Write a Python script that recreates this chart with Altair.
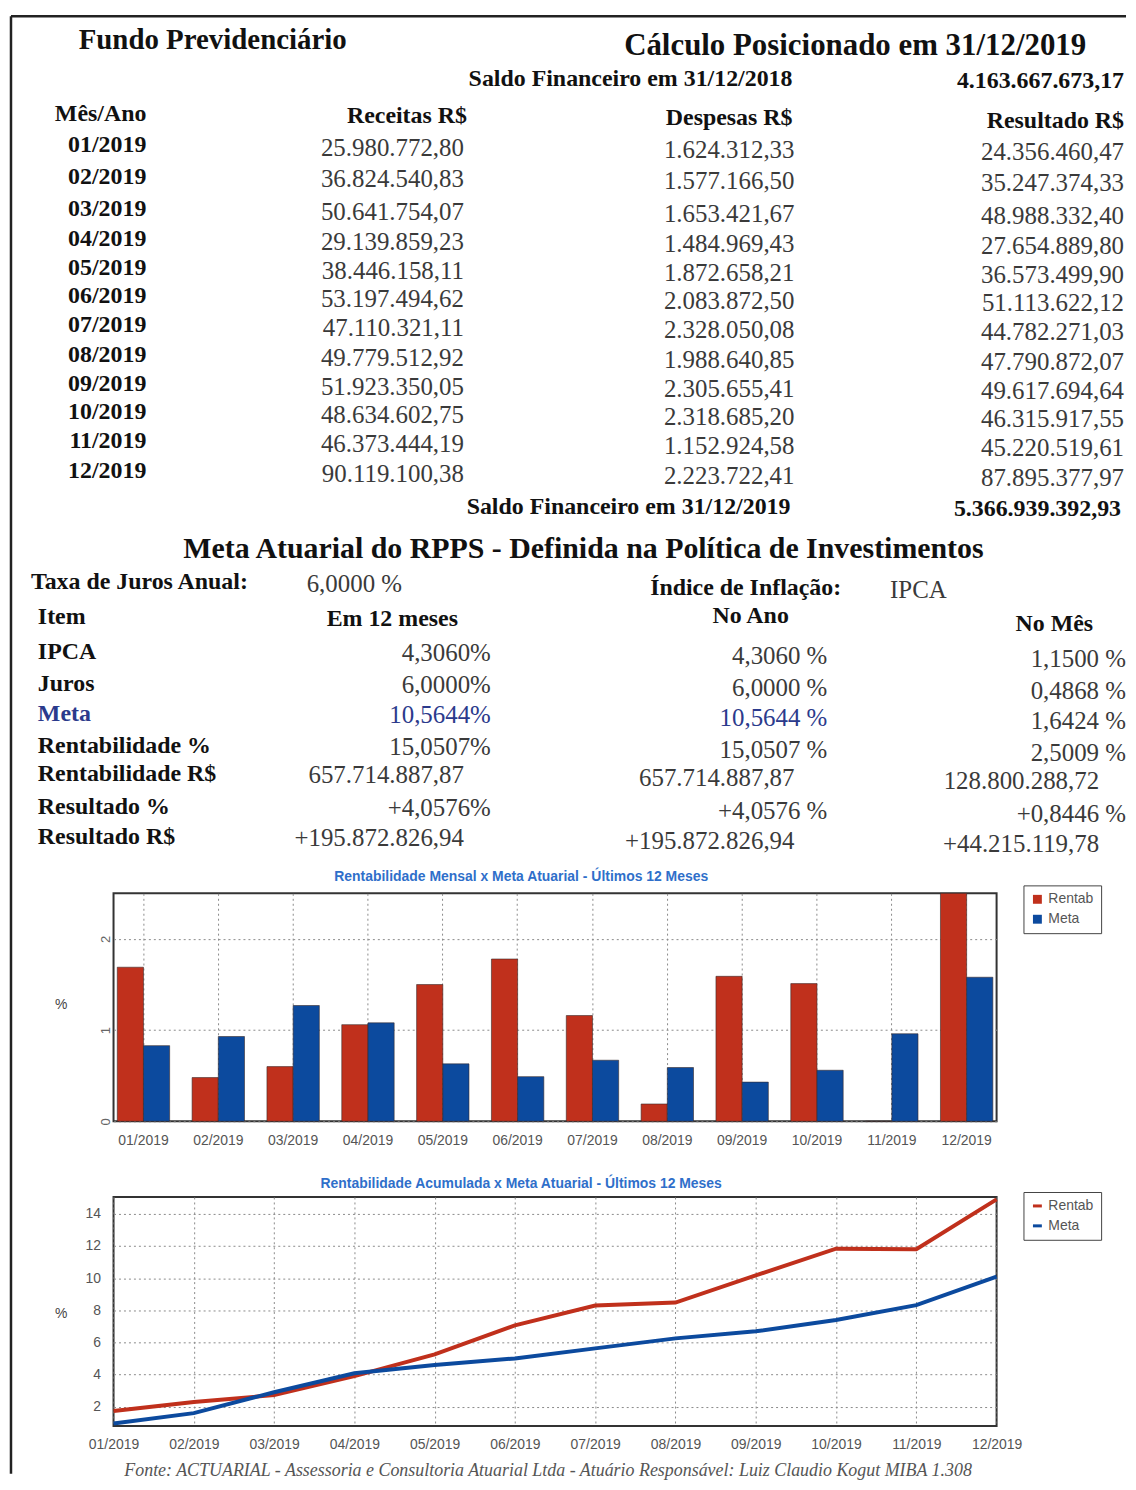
import altair as alt
import pandas as pd

# ---------------- data ----------------
meses = ["01/2019", "02/2019", "03/2019", "04/2019", "05/2019", "06/2019",
         "07/2019", "08/2019", "09/2019", "10/2019", "11/2019", "12/2019"]
receitas = ["25.980.772,80", "36.824.540,83", "50.641.754,07", "29.139.859,23",
            "38.446.158,11", "53.197.494,62", "47.110.321,11", "49.779.512,92",
            "51.923.350,05", "48.634.602,75", "46.373.444,19", "90.119.100,38"]
despesas = ["1.624.312,33", "1.577.166,50", "1.653.421,67", "1.484.969,43",
            "1.872.658,21", "2.083.872,50", "2.328.050,08", "1.988.640,85",
            "2.305.655,41", "2.318.685,20", "1.152.924,58", "2.223.722,41"]
resultados = ["24.356.460,47", "35.247.374,33", "48.988.332,40", "27.654.889,80",
              "36.573.499,90", "51.113.622,12", "44.782.271,03", "47.790.872,07",
              "49.617.694,64", "46.315.917,55", "45.220.519,61", "87.895.377,97"]
saldo_ini = "4.163.667.673,17"
saldo_fim = "5.366.939.392,93"

itens = ["IPCA", "Juros", "Meta", "Rentabilidade %", "Rentabilidade R$",
         "Resultado %", "Resultado R$"]
em_12_meses = ["4,3060%", "6,0000%", "10,5644%", "15,0507%", "657.714.887,87",
               "+4,0576%", "+195.872.826,94"]
no_ano = ["4,3060 %", "6,0000 %", "10,5644 %", "15,0507 %", "657.714.887,87",
          "+4,0576 %", "+195.872.826,94"]
no_mes = ["1,1500 %", "0,4868 %", "1,6424 %", "2,5009 %", "128.800.288,72",
          "+0,8446 %", "+44.215.119,78"]

series = ["Rentab", "Meta"]
rent_mensal = [1.69, 0.48, 0.60, 1.06, 1.50, 1.78, 1.16, 0.19, 1.59, 1.51, 0.00, 2.50]
meta_mensal = [0.83, 0.93, 1.27, 1.08, 0.63, 0.49, 0.67, 0.59, 0.43, 0.56, 0.96, 1.58]
rent_acum = [1.73, 2.29, 2.72, 3.90, 5.26, 7.06, 8.30, 8.48, 10.17, 11.83, 11.80, 14.90]
meta_acum = [0.95, 1.60, 2.90, 4.08, 4.60, 5.00, 5.63, 6.25, 6.69, 7.39, 8.32, 10.10]

titulo_barras = "Rentabilidade Mensal x Meta Atuarial - Últimos 12 Meses"
titulo_linhas = "Rentabilidade Acumulada x Meta Atuarial - Últimos 12 Meses"
fonte = ("Fonte: ACTUARIAL - Assessoria e Consultoria Atuarial Ltda - "
         "Atuário Responsável: Luiz Claudio Kogut MIBA 1.308")

# ---------------- styles / layout ----------------
SERIF = "Liberation Serif"
SANS = "Liberation Sans"
INK = "#111111"
REG = "#3a3a3a"
BLUE_TXT = "#2b3a8c"
RED = "#c0301c"
BLUE = "#0c4a9e"
TITLE_BLUE = "#2f6fca"

OX, OY = 113, 12          # page position of the plot origin column / top frame
PW = 887                  # plot width
XS = alt.Scale(domain=[0, 1136], range=[-OX, 1136 - OX])
YS = alt.Scale(domain=[0, 1490], range=[-OY, 1490 - OY])

row_y = [141, 173, 206, 236, 265, 293, 322, 352, 381, 410, 439, 469]
low_y = [651, 683, 713, 745, 773, 806, 836]
money_rows = {"Rentabilidade R$", "Resultado R$"}

cells = []


def cell(t, x, y, g, s, c=INK):
    cells.append(dict(t=t, x=x, y=y, g=g, s=s, c=c))


cell("Fundo Previdenciário", 78, 36, "lb", 29)
cell("Cálculo Posicionado em  31/12/2019", 1090, 42, "rb", 31)
cell("Saldo Financeiro em  31/12/2018", 795, 75, "rb", 24)
cell(saldo_ini, 1128, 77, "rb", 24)
cell("Mês/Ano", 146, 110, "rb", 24)
cell("Receitas  R$", 468, 112, "rb", 24)
cell("Despesas  R$", 795, 114, "rb", 24)
cell("Resultado R$", 1128, 117, "rb", 24)
for i, m in enumerate(meses):
    y = row_y[i]
    cell(m, 146, y, "rb", 24)
    cell(receitas[i], 465, y + 3, "rr", 25, REG)
    cell(despesas[i], 797, y + 5, "rr", 25, REG)
    cell(resultados[i], 1128, y + 7, "rr", 25, REG)
cell("Saldo Financeiro em  31/12/2019", 793, 505, "rb", 24)
cell(saldo_fim, 1125, 507, "rb", 24)
cell("Meta Atuarial do RPPS - Definida na Política de Investimentos", 585, 547, "cb", 30)
cell("Taxa de Juros Anual:", 30, 580, "lb", 24)
cell("6,0000 %", 307, 582, "lr", 25, REG)
cell("Índice de Inflação:", 652, 586, "lb", 24)
cell("IPCA", 893, 588, "lr", 25, REG)
cell("Item", 37, 615, "lb", 24)
cell("Em 12 meses", 393, 617, "cb", 24)
cell("No Ano", 753, 614, "cb", 24)
cell("No Mês", 1058, 622, "cb", 24)
for i, it in enumerate(itens):
    y = low_y[i]
    money = it in money_rows
    lab_c = BLUE_TXT if it == "Meta" else INK
    val_c = BLUE_TXT if it == "Meta" else REG
    cell(it, 37, y, "lb", 24, lab_c)
    cell(em_12_meses[i], 465 if money else 492, y + 1, "rr", 25, val_c)
    cell(no_ano[i], 797 if money else 830, y + 4, "rr", 25, val_c)
    cell(no_mes[i], 1103 if money else 1130, y + 7, "rr", 25, REG)

cells_df = pd.DataFrame(cells)
groups = [("lb", "left", "bold"), ("cb", "center", "bold"), ("rb", "right", "bold"),
          ("rr", "right", "normal"), ("lr", "left", "normal")]
layers = []
for g, align, weight in groups:
    layers.append(
        alt.Chart(cells_df[cells_df.g == g])
        .mark_text(align=align, baseline="middle", font=SERIF, fontWeight=weight)
        .encode(
            x=alt.X("x:Q", scale=XS, axis=None),
            y=alt.Y("y:Q", scale=YS, axis=None),
            text="t:N",
            size=alt.Size("s:Q", scale=None, legend=None),
            color=alt.Color("c:N", scale=None),
        )
    )

frame_df = pd.DataFrame([
    {"x": 10, "y": 12, "x2": 10, "y2": 1476},
    {"x": 10, "y": 12, "x2": 1130, "y2": 12},
])
frame = alt.Chart(frame_df).mark_rule(color="#222222", strokeWidth=2.5).encode(
    x=alt.X("x:Q", scale=XS, axis=None), y=alt.Y("y:Q", scale=YS, axis=None),
    x2="x2:Q", y2="y2:Q")

table = alt.layer(frame, *layers).properties(width=PW, height=805)

# ---------------- bar chart ----------------
bar_df = pd.DataFrame({
    "Mês": meses * 2,
    "Série": [series[0]] * 12 + [series[1]] * 12,
    "Valor": rent_mensal + meta_mensal,
})
grid_kw = dict(gridDash=[2, 3], gridColor="#8a8a8a", gridWidth=1)
view_bg = alt.ViewBackground(stroke="#333333", strokeWidth=2, fill="white")

bars = alt.Chart(bar_df).mark_bar(stroke="#3a2a2a", strokeWidth=0.6).encode(
    x=alt.X("Mês:N", sort=meses,
            scale=alt.Scale(paddingInner=0.3, paddingOuter=0.05),
            axis=alt.Axis(title=None, labelAngle=0, bandPosition=0.5, grid=True,
                          ticks=False, domain=False, labelFont=SANS, labelFontSize=14,
                          labelColor="#555555", labelPadding=12, **grid_kw)),
    xOffset=alt.XOffset("Série:N", sort=series),
    y=alt.Y("Valor:Q", scale=alt.Scale(domain=[0, 2.5], nice=False),
            axis=alt.Axis(values=[0, 1, 2], title="%", titleAngle=0, titleX=-53,
                          titleY=112, titleAlign="center", titleBaseline="middle",
                          titleFont=SANS, titleFontSize=14, titleColor="#444444",
                          titleFontWeight="normal", labelFont=SANS, labelFontSize=13,
                          labelColor="#666666", labelAngle=270, labelAlign="center",
                          labelBaseline="bottom", labelPadding=1, ticks=False,
                          domain=False, grid=True, **grid_kw)),
    color=alt.Color("Série:N", sort=series,
                    scale=alt.Scale(domain=series, range=[RED, BLUE]),
                    legend=alt.Legend(title=None, orient="none", legendX=914, legendY=-8,
                                      strokeColor="#444444", fillColor="white", padding=7,
                                      symbolType="square", symbolSize=80,
                                      symbolStrokeWidth=0, labelFont=SANS,
                                      labelFontSize=14, labelColor="#555555",
                                      rowPadding=6, symbolOffset=0)),
).properties(
    width=PW, height=229, view=view_bg,
    title=alt.TitleParams(titulo_barras, font=SANS, fontSize=14, fontWeight="bold",
                          color=TITLE_BLUE, anchor="middle", dx=-34, offset=1),
)

# ---------------- line chart ----------------
line_df = pd.DataFrame({
    "Mês": meses * 2,
    "Série": [series[0]] * 12 + [series[1]] * 12,
    "Valor": rent_acum + meta_acum,
})
lines = alt.Chart(line_df).mark_line(strokeWidth=4).encode(
    x=alt.X("Mês:N", sort=meses, scale=alt.Scale(type="point", padding=0),
            axis=alt.Axis(title=fonte, labelAngle=0, grid=True, ticks=False,
                          domain=False, labelFont=SANS, labelFontSize=14,
                          labelColor="#555555", labelPadding=12,
                          titleFont=SERIF, titleFontStyle="italic",
                          titleFontWeight="normal", titleFontSize=18,
                          titleColor="#555555", titleX=436, titleY=45,
                          titleAlign="center", titleBaseline="middle", **grid_kw)),
    y=alt.Y("Valor:Q", scale=alt.Scale(domain=[0.8, 15.05], nice=False, zero=False),
            axis=alt.Axis(values=[2, 4, 6, 8, 10, 12, 14], title="%", titleAngle=0,
                          titleX=-53, titleY=117, titleAlign="center",
                          titleBaseline="middle", titleFont=SANS, titleFontSize=14,
                          titleColor="#444444", titleFontWeight="normal",
                          labelFont=SANS, labelFontSize=14, labelColor="#555555",
                          labelPadding=13, ticks=False, domain=False, grid=True,
                          **grid_kw)),
    color=alt.Color("Série:N", sort=series,
                    scale=alt.Scale(domain=series, range=[RED, BLUE]),
                    legend=alt.Legend(title=None, orient="none", legendX=914, legendY=-5,
                                      strokeColor="#444444", fillColor="white", padding=7,
                                      symbolType="stroke", symbolSize=80,
                                      symbolStrokeWidth=3, labelFont=SANS,
                                      labelFontSize=14, labelColor="#555555",
                                      rowPadding=6)),
).properties(
    width=PW, height=230, view=view_bg,
    title=alt.TitleParams(titulo_linhas, font=SANS, fontSize=14, fontWeight="bold",
                          color=TITLE_BLUE, anchor="middle", dx=-34, offset=0),
)

chart = (
    alt.vconcat(table, bars, lines, spacing=76, bounds="flush")
    .resolve_scale(color="independent", x="independent", y="independent")
    .properties(padding={"left": 1, "top": 3, "right": 0, "bottom": 0},
                background="white")
    .configure_view(stroke=None)
)

chart.save("out.html", embed_options={"renderer": "svg", "actions": False})
